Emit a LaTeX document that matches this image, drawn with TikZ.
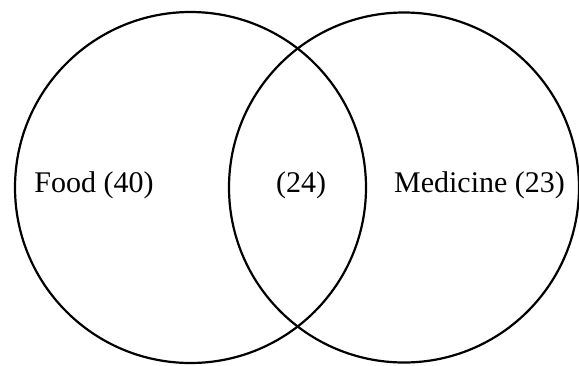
\documentclass[tikz,border=0pt]{standalone}
\usepackage{fontspec}
\setmainfont{Liberation Serif}
\begin{document}
\begin{tikzpicture}[x=0.5pt,y=-0.5pt,
  setline/.style={black,line width=1.1pt},
  setlabel/.style={anchor=base,inner sep=0pt,font=\fontsize{15}{18}\selectfont}]
 \useasboundingbox (0,0) rectangle (579,365);
 \draw [setline] (190.5,187.5) circle (175.5);
 \draw [setline] (404,187.5) circle (175);
 \node [setlabel] (food) at (94,192) {Food (40)};
 \node [setlabel] (both) at (301,192) {(24)};
 \node [setlabel] (medicine) at (479.5,192) {Medicine (23)};
\end{tikzpicture}
\end{document}
